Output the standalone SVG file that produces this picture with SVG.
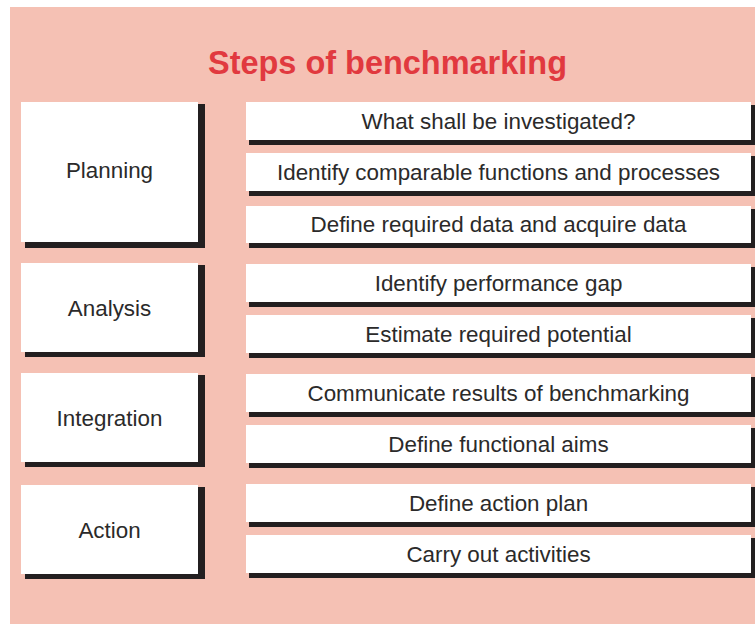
<svg xmlns="http://www.w3.org/2000/svg" width="755" height="625" viewBox="0 0 755 625">
<style>
.bg{fill:#f5c1b4}
.sh{fill:#231f20}
.box{fill:#ffffff}
.t{font-family:"Liberation Sans",Arial,sans-serif;font-size:22.4px;fill:#2b2a2a;text-anchor:middle}
.title{font-family:"Liberation Sans",Arial,sans-serif;font-size:34px;font-weight:bold;fill:#e1393f;text-anchor:middle}
</style>
<rect width="755" height="625" fill="#ffffff"/>
<rect class="bg" x="10" y="7" width="745" height="617"/>
<text class="title" x="387.5" y="74" textLength="359" lengthAdjust="spacingAndGlyphs">Steps of benchmarking</text>
<g id="connectors"></g>
<g id="planning">
<rect class="sh" x="25" y="104" width="180" height="144"/>
<rect class="box" x="21" y="102" width="177" height="140"/>
<text class="t" x="109.5" y="178">Planning</text>
</g>
<g id="analysis">
<rect class="sh" x="25" y="265" width="180" height="92"/>
<rect class="box" x="21" y="263" width="177" height="89"/>
<text class="t" x="109.5" y="315.5">Analysis</text>
</g>
<g id="integration">
<rect class="sh" x="25" y="375" width="180" height="92"/>
<rect class="box" x="21" y="373" width="177" height="89"/>
<text class="t" x="109.5" y="425.5">Integration</text>
</g>
<g id="action">
<rect class="sh" x="25" y="487" width="180" height="92"/>
<rect class="box" x="21" y="485" width="177" height="89"/>
<text class="t" x="109.5" y="537.5">Action</text>
</g>
<g id="step1">
<rect class="sh" x="249" y="105" width="506" height="40"/>
<rect class="box" x="246" y="102" width="505" height="38"/>
<text class="t" x="498.5" y="129">What shall be investigated?</text>
</g>
<g id="step2">
<rect class="sh" x="249" y="156" width="506" height="40"/>
<rect class="box" x="246" y="153" width="505" height="38"/>
<text class="t" x="498.5" y="180">Identify comparable functions and processes</text>
</g>
<g id="step3">
<rect class="sh" x="249" y="209" width="506" height="39"/>
<rect class="box" x="246" y="206" width="505" height="37"/>
<text class="t" x="498.5" y="232">Define required data and acquire data</text>
</g>
<g id="step4">
<rect class="sh" x="249" y="267" width="506" height="40"/>
<rect class="box" x="246" y="264" width="505" height="38"/>
<text class="t" x="498.5" y="291">Identify performance gap</text>
</g>
<g id="step5">
<rect class="sh" x="249" y="318" width="506" height="40"/>
<rect class="box" x="246" y="315" width="505" height="38"/>
<text class="t" x="498.5" y="342">Estimate required potential</text>
</g>
<g id="step6">
<rect class="sh" x="249" y="377" width="506" height="40"/>
<rect class="box" x="246" y="374" width="505" height="38"/>
<text class="t" x="498.5" y="401">Communicate results of benchmarking</text>
</g>
<g id="step7">
<rect class="sh" x="249" y="428" width="506" height="40"/>
<rect class="box" x="246" y="425" width="505" height="38"/>
<text class="t" x="498.5" y="452">Define functional aims</text>
</g>
<g id="step8">
<rect class="sh" x="249" y="487" width="506" height="40"/>
<rect class="box" x="246" y="484" width="505" height="38"/>
<text class="t" x="498.5" y="511">Define action plan</text>
</g>
<g id="step9">
<rect class="sh" x="249" y="538" width="506" height="40"/>
<rect class="box" x="246" y="535" width="505" height="38"/>
<text class="t" x="498.5" y="562">Carry out activities</text>
</g>
</svg>
